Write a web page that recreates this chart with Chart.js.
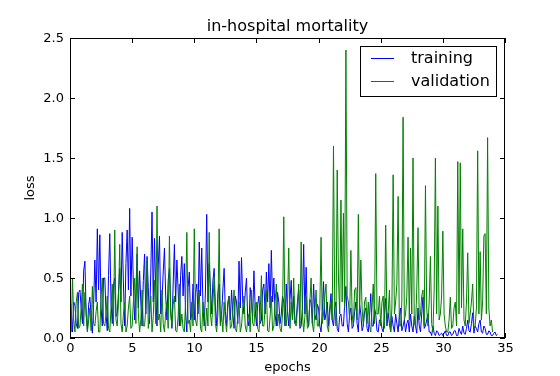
<!DOCTYPE html>
<html>
<head>
<meta charset="utf-8">
<script src="https://cdn.jsdelivr.net/npm/chart.js@4"></script>
<style>
  html, body { margin: 0; padding: 0; background: #fff; }
  #wrap { width: 560px; height: 376px; }
</style>
</head>
<body>
<div id="wrap"><canvas id="chart" width="560" height="376"></canvas></div>
<script>
// loss values, one every 0.1 epoch, one epoch per line
var training = [
  0.37, 0.22, 0.05, 0.30, 0.27, 0.12, 0.08, 0.38, 0.40, 0.25,
  0.12, 0.56, 0.64, 0.20, 0.06, 0.28, 0.34, 0.18, 0.04, 0.28,
  0.65, 0.30, 0.91, 0.40, 0.86, 0.25, 0.10, 0.50, 0.50, 0.20,
  0.06, 0.52, 0.87, 0.30, 0.12, 0.44, 0.50, 0.18, 0.20, 0.38,
  0.58, 0.30, 0.88, 0.45, 0.10, 0.62, 0.90, 0.40, 1.08, 0.35,
  0.84, 0.45, 0.15, 0.38, 0.70, 0.25, 0.56, 0.30, 0.10, 0.48,
  0.70, 0.20, 0.68, 0.42, 0.12, 0.55, 1.05, 0.30, 0.83, 0.40,
  0.10, 0.60, 0.85, 0.20, 0.30, 0.55, 0.75, 0.35, 0.15, 0.48,
  0.58, 0.25, 0.08, 0.45, 0.78, 0.30, 0.65, 0.40, 0.10, 0.52,
  0.68, 0.35, 0.62, 0.20, 0.05, 0.42, 0.55, 0.15, 0.20, 0.45,
  0.15, 0.38, 0.45, 0.20, 0.80, 0.35, 0.75, 0.25, 0.10, 0.40,
  1.03, 0.30, 0.62, 0.42, 0.20, 0.48, 0.58, 0.25, 0.10, 0.38,
  0.45, 0.12, 0.20, 0.40, 0.58, 0.22, 0.10, 0.30, 0.35, 0.15,
  0.40, 0.20, 0.08, 0.35, 0.30, 0.12, 0.64, 0.25, 0.67, 0.30,
  0.20, 0.38, 0.50, 0.15, 0.10, 0.42, 0.30, 0.18, 0.56, 0.25,
  0.10, 0.28, 0.35, 0.12, 0.15, 0.40, 0.45, 0.20, 0.55, 0.30,
  0.62, 0.25, 0.73, 0.30, 0.50, 0.20, 0.10, 0.38, 0.30, 0.12,
  0.20, 0.35, 0.30, 0.10, 0.45, 0.22, 0.10, 0.32, 0.48, 0.15,
  0.35, 0.12, 0.15, 0.30, 0.40, 0.08, 0.10, 0.25, 0.78, 0.20,
  0.59, 0.15, 0.10, 0.32, 0.30, 0.12, 0.45, 0.20, 0.15, 0.28,
  0.25, 0.10, 0.05, 0.22, 0.47, 0.15, 0.20, 0.30, 0.10, 0.25,
  0.37, 0.15, 0.10, 0.25, 0.30, 0.08, 0.05, 0.18, 0.20, 0.10,
  0.10, 0.28, 0.43, 0.12, 0.05, 0.20, 0.25, 0.08, 0.10, 0.22,
  0.30, 0.12, 0.05, 0.28, 0.20, 0.06, 0.10, 0.22, 0.25, 0.08,
  0.05, 0.18, 0.37, 0.10, 0.10, 0.25, 0.20, 0.06, 0.05, 0.15,
  0.15, 0.08, 0.05, 0.20, 0.33, 0.10, 0.21, 0.12, 0.05, 0.18,
  0.10, 0.05, 0.20, 0.12, 0.05, 0.18, 0.25, 0.06, 0.10, 0.15,
  0.05, 0.12, 0.15, 0.05, 0.20, 0.10, 0.05, 0.18, 0.10, 0.04,
  0.25, 0.10, 0.05, 0.20, 0.34, 0.08, 0.10, 0.15, 0.20, 0.05,
  0.05, 0.02, 0.10, 0.04, 0.02, 0.06, 0.05, 0.02, 0.03, 0.04,
  0.02, 0.04, 0.06, 0.02, 0.02, 0.05, 0.05, 0.02, 0.03, 0.06,
  0.06, 0.02, 0.02, 0.08, 0.05, 0.03, 0.10, 0.04, 0.03, 0.08,
  0.15, 0.06, 0.05, 0.12, 0.21, 0.04, 0.10, 0.08, 0.05, 0.12,
  0.15, 0.05, 0.04, 0.10, 0.08, 0.03, 0.03, 0.06, 0.05, 0.02,
  0.02, 0.04, 0.05, 0.02, 0.03
];
var validation = [
  0.20, 0.05, 0.50, 0.15, 0.05, 0.30, 0.38, 0.08, 0.10, 0.25,
  0.45, 0.10, 0.38, 0.20, 0.05, 0.15, 0.25, 0.06, 0.43, 0.12,
  0.10, 0.22, 0.30, 0.05, 0.05, 0.35, 0.50, 0.12, 0.10, 0.20,
  0.35, 0.08, 0.05, 0.25, 0.45, 0.10, 0.90, 0.15, 0.10, 0.30,
  0.78, 0.12, 0.05, 0.20, 0.30, 0.05, 0.10, 0.25, 0.35, 0.08,
  0.10, 0.30, 0.50, 0.12, 0.76, 0.20, 0.05, 0.15, 0.40, 0.10,
  0.10, 0.25, 0.65, 0.08, 0.20, 0.35, 0.05, 0.18, 0.48, 0.12,
  1.10, 0.15, 0.20, 0.05, 0.40, 0.12, 0.05, 0.22, 0.30, 0.08,
  0.85, 0.20, 0.10, 0.28, 0.35, 0.06, 0.05, 0.18, 0.45, 0.10,
  0.20, 0.08, 0.05, 0.30, 0.88, 0.12, 0.15, 0.05, 0.30, 0.10,
  0.91, 0.15, 0.10, 0.25, 0.40, 0.08, 0.05, 0.30, 0.20, 0.06,
  0.25, 0.10, 0.88, 0.20, 0.10, 0.30, 0.51, 0.12, 0.05, 0.20,
  0.91, 0.10, 0.20, 0.05, 0.30, 0.15, 0.05, 0.25, 0.35, 0.08,
  0.10, 0.22, 0.40, 0.08, 0.05, 0.18, 0.30, 0.05, 0.10, 0.25,
  0.35, 0.10, 0.05, 0.15, 0.20, 0.05, 0.40, 0.12, 0.10, 0.28,
  0.30, 0.08, 0.05, 0.20, 0.52, 0.10, 0.10, 0.25, 0.40, 0.06,
  0.05, 0.18, 0.35, 0.06, 0.10, 0.30, 0.45, 0.10, 0.20, 0.08,
  0.05, 0.20, 1.01, 0.12, 0.10, 0.28, 0.75, 0.08, 0.30, 0.15,
  0.50, 0.12, 0.10, 0.25, 0.45, 0.10, 0.80, 0.20, 0.05, 0.18,
  0.35, 0.08, 0.10, 0.30, 0.50, 0.12, 0.05, 0.22, 0.40, 0.10,
  0.10, 0.25, 0.84, 0.12, 0.20, 0.35, 0.45, 0.10, 0.05, 0.20,
  0.30, 0.15, 1.60, 0.25, 0.10, 1.40, 0.50, 0.20, 1.15, 0.30,
  1.04, 0.25, 2.40, 0.35, 0.30, 0.15, 0.73, 0.20, 0.10, 0.40,
  0.42, 0.15, 1.03, 0.20, 0.65, 0.25, 0.10, 0.30, 0.34, 0.12,
  0.30, 0.10, 0.05, 0.25, 0.45, 0.12, 1.37, 0.20, 0.20, 0.35,
  0.10, 0.30, 0.35, 0.08, 0.94, 0.15, 0.20, 0.40, 0.05, 0.25,
  1.36, 0.20, 0.30, 0.45, 1.18, 0.10, 0.10, 0.30, 1.84, 0.15,
  0.20, 0.35, 0.84, 0.15, 0.75, 0.20, 1.50, 0.12, 0.10, 0.40,
  0.92, 0.15, 0.20, 0.35, 0.40, 0.10, 1.27, 0.25, 0.10, 0.30,
  0.68, 0.12, 0.05, 0.40, 1.50, 0.20, 1.10, 0.15, 0.20, 0.35,
  0.89, 0.20, 0.10, 0.05, 0.05, 0.15, 0.34, 0.08, 0.10, 0.25,
  0.30, 0.10, 1.47, 0.20, 1.46, 0.25, 0.91, 0.15, 0.10, 0.30,
  0.71, 0.12, 0.20, 0.30, 0.45, 0.08, 0.10, 0.25, 1.56, 0.20,
  0.72, 0.15, 0.30, 0.85, 0.87, 0.20, 1.67, 0.25, 0.10, 0.15,
  0.05
];
var epochStep = 0.1;
var xTicks = [0, 5, 10, 15, 20, 25, 30, 35];
var yTicks = [0.0, 0.5, 1.0, 1.5, 2.0, 2.5];

function toPoints(arr) {
  return arr.map(function (v, i) { return { x: i * epochStep, y: v }; });
}

var FONT = '"DejaVu Sans", sans-serif';

// matplotlib-like frame, inward ticks, labels, title and boxed legend
var decor = {
  id: 'decor',
  afterDraw: function (chart) {
    var ctx = chart.ctx, a = chart.chartArea;
    var xs = chart.scales.x, ys = chart.scales.y;
    ctx.save();
    ctx.strokeStyle = '#000';
    ctx.lineWidth = 1;
    ctx.strokeRect(a.left + 0.5, a.top + 0.5, a.right - a.left - 1, a.bottom - a.top - 1);

    ctx.fillStyle = '#000';
    ctx.font = '13px ' + FONT;
    ctx.textAlign = 'center';
    ctx.textBaseline = 'top';
    xTicks.forEach(function (t) {
      var px = Math.round(xs.getPixelForValue(t)) + 0.5;
      ctx.beginPath();
      ctx.moveTo(px, a.bottom); ctx.lineTo(px, a.bottom - 5);
      ctx.moveTo(px, a.top); ctx.lineTo(px, a.top + 5);
      ctx.stroke();
      ctx.fillText(String(t), px, a.bottom + 4);
    });
    ctx.textAlign = 'right';
    ctx.textBaseline = 'middle';
    yTicks.forEach(function (t) {
      var py = Math.round(ys.getPixelForValue(t)) + 0.5;
      ctx.beginPath();
      ctx.moveTo(a.left, py); ctx.lineTo(a.left + 5, py);
      ctx.moveTo(a.right, py); ctx.lineTo(a.right - 5, py);
      ctx.stroke();
      ctx.fillText(t.toFixed(1), a.left - 6, py);
    });

    // axis labels
    ctx.textAlign = 'center';
    ctx.textBaseline = 'middle';
    ctx.fillText('epochs', (a.left + a.right) / 2, 368);
    ctx.save();
    ctx.translate(31, (a.top + a.bottom) / 2);
    ctx.rotate(-Math.PI / 2);
    ctx.fillText('loss', 0, 0);
    ctx.restore();

    // title
    ctx.font = '16px ' + FONT;
    ctx.fillText('in-hospital mortality', (a.left + a.right) / 2, 27);

    // legend box
    var bx = 360.5, by = 46.5, bw = 136, bh = 50;
    ctx.fillStyle = '#fff';
    ctx.fillRect(bx, by, bw, bh);
    ctx.strokeRect(bx, by, bw, bh);
    ctx.font = '16px ' + FONT;
    ctx.textAlign = 'left';
    chart.data.datasets.forEach(function (ds, i) {
      var ly = 58.5 + i * 23;
      ctx.strokeStyle = ds.borderColor;
      ctx.beginPath();
      ctx.moveTo(371, ly); ctx.lineTo(394, ly);
      ctx.stroke();
      ctx.fillStyle = '#000';
      ctx.fillText(ds.label, 411, ly);
    });
    ctx.restore();
  }
};

new Chart(document.getElementById('chart'), {
  type: 'line',
  data: {
    datasets: [{
      label: 'training',
      data: toPoints(training),
      borderColor: '#0000ff',
      borderWidth: 1,
      pointRadius: 0,
      tension: 0,
      order: 1
    }, {
      label: 'validation',
      data: toPoints(validation),
      borderColor: '#008000',
      borderWidth: 1,
      pointRadius: 0,
      tension: 0,
      order: 0
    }]
  },
  options: {
    responsive: false,
    animation: false,
    events: [],
    layout: { padding: { left: 70, right: 55, top: 38, bottom: 38 } },
    scales: {
      x: { type: 'linear', min: 0, max: 35, display: false },
      y: { type: 'linear', min: 0, max: 2.5, display: false }
    },
    plugins: {
      legend: { display: false },
      tooltip: { enabled: false }
    }
  },
  plugins: [decor]
});
</script>
</body>
</html>
